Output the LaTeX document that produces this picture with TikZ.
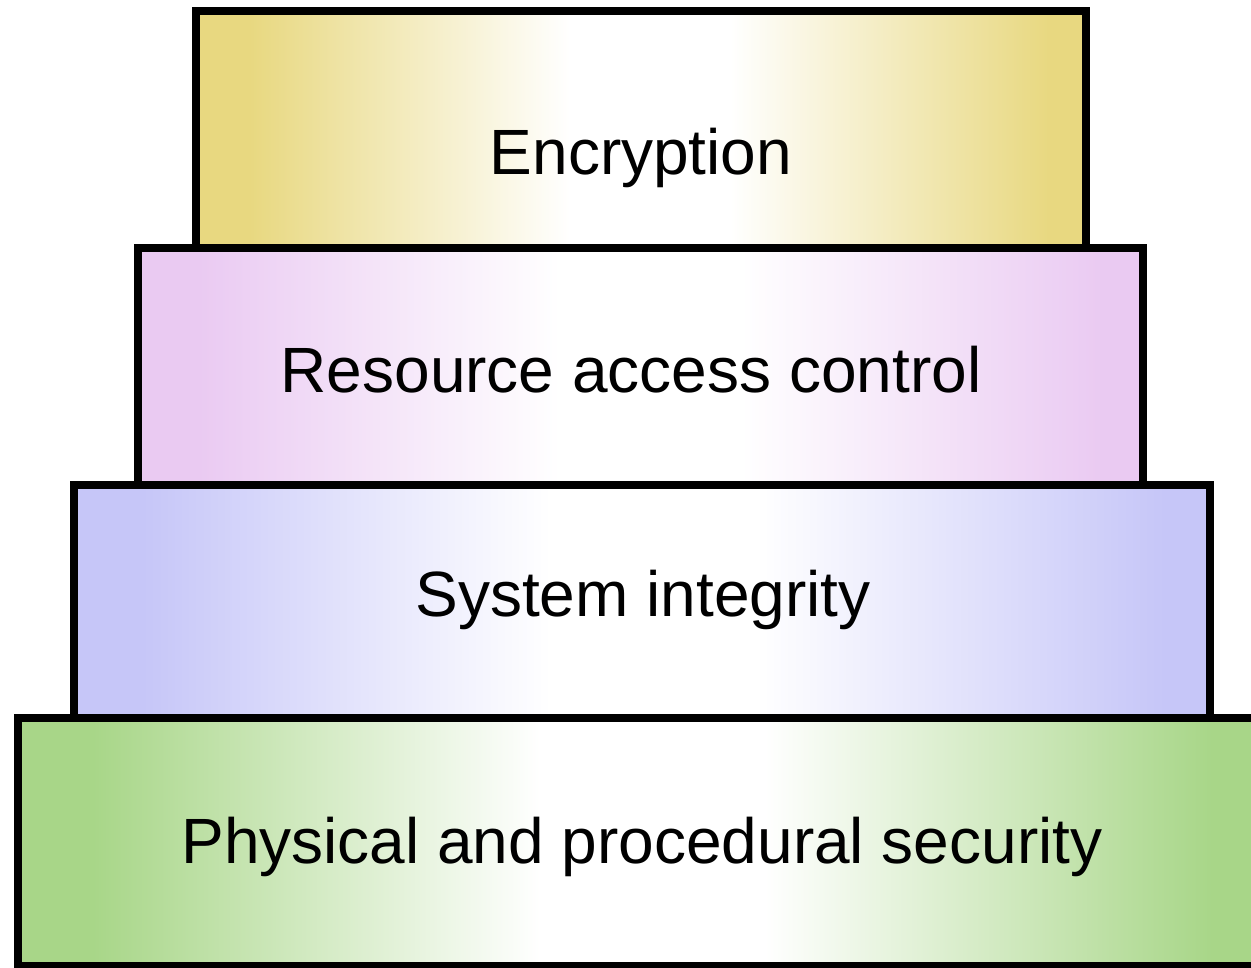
\documentclass[tikz,border=0pt]{standalone}
\usepackage{fontspec}
\setmainfont{Liberation Sans}

\definecolor{goldcol}{RGB}{232,216,128}
\definecolor{pinkcol}{RGB}{234,202,242}
\definecolor{bluecol}{RGB}{198,198,248}
\definecolor{greencol}{RGB}{168,214,136}

% Horizontal fades: layer colour at both sides, white in the middle.
% The path spans 25bp..75bp of the 100bp shading.
\pgfdeclarehorizontalshading{fadegold}{100bp}{color(0bp)=(goldcol); color(28bp)=(goldcol); color(46bp)=(white); color(55bp)=(white); color(73bp)=(goldcol); color(100bp)=(goldcol)}
\pgfdeclarehorizontalshading{fadepink}{100bp}{color(0bp)=(pinkcol); color(28bp)=(pinkcol); color(46bp)=(white); color(55bp)=(white); color(73bp)=(pinkcol); color(100bp)=(pinkcol)}
\pgfdeclarehorizontalshading{fadeblue}{100bp}{color(0bp)=(bluecol); color(28bp)=(bluecol); color(46bp)=(white); color(55bp)=(white); color(73bp)=(bluecol); color(100bp)=(bluecol)}
\pgfdeclarehorizontalshading{fadegreen}{100bp}{color(0bp)=(greencol); color(28bp)=(greencol); color(46bp)=(white); color(55bp)=(white); color(73bp)=(greencol); color(100bp)=(greencol)}

\begin{document}
\begin{tikzpicture}[x=1pt,y=-1pt,
  layerbox/.style={draw=black, line width=8pt, rectangle, inner sep=0pt, outer sep=0pt},
  layertext/.style={anchor=base, inner sep=0pt, font=\fontsize{64}{76}\selectfont, text=black}]
  \useasboundingbox (0,0) rectangle (1251,968);
  \clip (0,0) rectangle (1251,968);

  % stacked layers, widest at the bottom
  \node (phys) [layerbox, shading=fadegreen, minimum width=1244pt, minimum height=248pt] at (640,842) {};
  \node (sys)  [layerbox, shading=fadeblue,  minimum width=1136pt, minimum height=233pt] at (642,601.5) {};
  \node (res)  [layerbox, shading=fadepink,  minimum width=1005pt, minimum height=237pt] at (640.5,366.5) {};
  \node (enc)  [layerbox, shading=fadegold,  minimum width=890pt,  minimum height=237pt] at (641,129.5) {};

  % labels
  \node (enctext)  [layertext] at (641,175) {Encryption};
  \node (restext)  [layertext] at (631,392) {Resource access control};
  \node (systext)  [layertext] at (643,616) {System integrity};
  \node (physext)  [layertext] at (642,863) {Physical and procedural security};
\end{tikzpicture}
\end{document}
